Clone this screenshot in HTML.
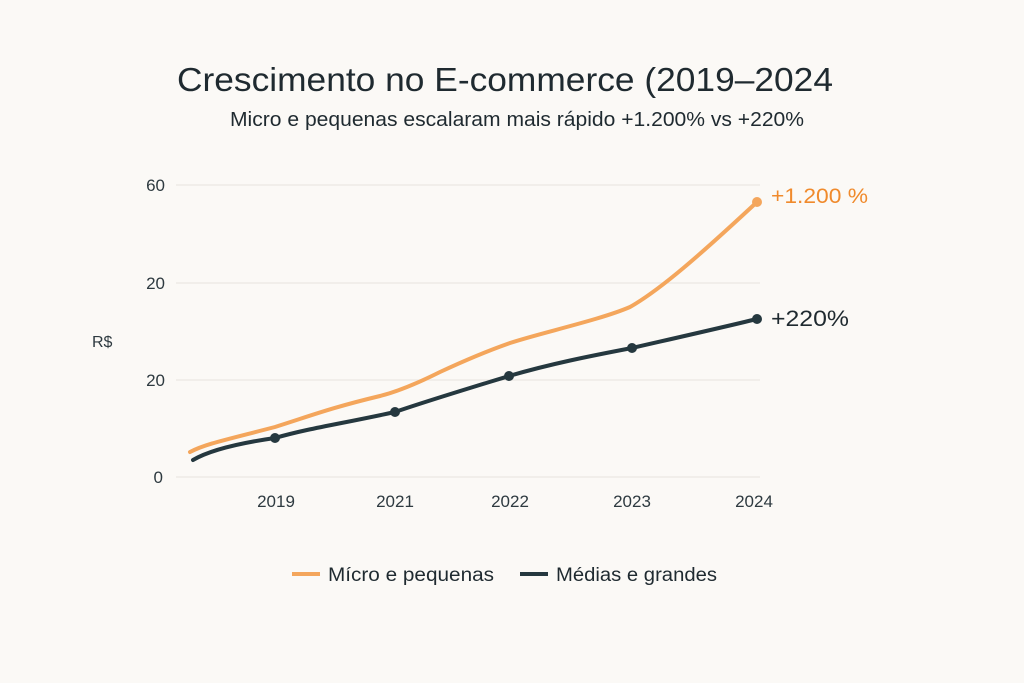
<!DOCTYPE html>
<html><head><meta charset="utf-8"><style>
html,body{margin:0;padding:0;background:#fbf9f6;}
svg{display:block;font-family:"Liberation Sans",sans-serif;}
</style></head><body>
<svg width="1024" height="683" viewBox="0 0 1024 683">
<rect width="1024" height="683" fill="#fbf9f6"/>
<text x="505" y="91" text-anchor="middle" font-size="33" textLength="656" lengthAdjust="spacingAndGlyphs" fill="#1f2a30">Crescimento no E-commerce (2019–2024</text>
<text x="517" y="126" text-anchor="middle" font-size="20" textLength="574" lengthAdjust="spacingAndGlyphs" fill="#1f2a30">Micro e pequenas escalaram mais rápido +1.200% vs +220%</text>
<g stroke="#ebe8e3" stroke-width="1.2">
<line x1="176" y1="185" x2="760" y2="185"/>
<line x1="176" y1="283" x2="760" y2="283"/>
<line x1="176" y1="380" x2="760" y2="380"/>
<line x1="176" y1="477" x2="760" y2="477"/>
</g>
<g font-size="17" fill="#2e3a40" text-anchor="end">
<text x="165" y="191">60</text>
<text x="165" y="289">20</text>
<text x="165" y="386">20</text>
<text x="163" y="483">0</text>
</g>
<text x="92" y="347" font-size="16" fill="#2e3a40">R$</text>
<g font-size="17" fill="#2e3a40" text-anchor="middle">
<text x="276" y="507">2019</text>
<text x="395" y="507">2021</text>
<text x="510" y="507">2022</text>
<text x="632" y="507">2023</text>
<text x="754" y="507">2024</text>
</g>
<path d="M190,452 C205,444 225,440 275,427 C310,416 330,408 380,396 C400,391 420,382 440,372 C470,358 490,350 510,343 C540,333 600,320 630,307 C660,290 700,255 757,202" fill="none" stroke="#f4a65c" stroke-width="4" stroke-linecap="round"/>
<circle cx="757" cy="202" r="5" fill="#f4a65c"/>
<path d="M193,460 C210,450 240,443 275,438 C310,428 340,424 395,412 C430,400 470,388 509,376 C550,364 590,356 632,348 C680,337 720,328 757,319" fill="none" stroke="#25383f" stroke-width="4" stroke-linecap="round"/>
<g fill="#25383f">
<circle cx="275" cy="438" r="5"/><circle cx="395" cy="412" r="5"/><circle cx="509" cy="376" r="5"/><circle cx="632" cy="348" r="5"/><circle cx="757" cy="319" r="5"/>
</g>
<text x="771" y="203" font-size="21" textLength="97" lengthAdjust="spacingAndGlyphs" fill="#f08a2c">+1.200 %</text>
<text x="771" y="326" font-size="22" textLength="78" lengthAdjust="spacingAndGlyphs" fill="#1f2a30">+220%</text>
<line x1="292" y1="574" x2="320" y2="574" stroke="#f4a65c" stroke-width="4"/>
<text x="328" y="581" font-size="19" textLength="166" lengthAdjust="spacingAndGlyphs" fill="#1f2a30">Mícro e pequenas</text>
<line x1="520" y1="574" x2="548" y2="574" stroke="#25383f" stroke-width="4"/>
<text x="556" y="581" font-size="19" textLength="161" lengthAdjust="spacingAndGlyphs" fill="#1f2a30">Médias e grandes</text>
</svg>
</body></html>
